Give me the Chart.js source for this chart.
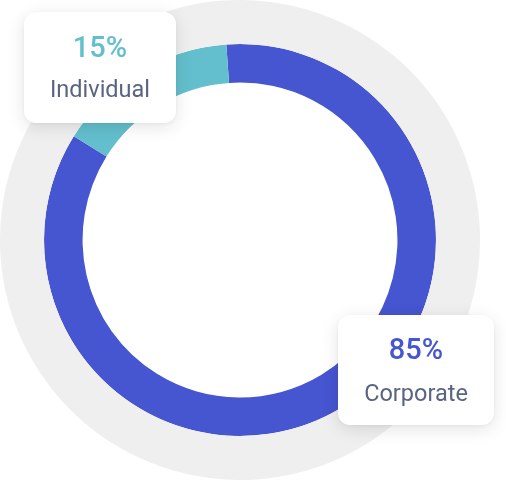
<!DOCTYPE html>
<html>
<head>
<meta charset="utf-8">
<script src="https://cdn.jsdelivr.net/npm/chart.js@4.4.1/dist/chart.umd.min.js"></script>
<style>
  html, body { margin: 0; padding: 0; background: #ffffff; }
  #stage { position: relative; width: 506px; height: 480px; overflow: hidden; font-family: Roboto, "Noto Sans", sans-serif; }
  #wrap { position: absolute; left: 0; top: 0; width: 480px; height: 480px; }
  .card { position: absolute; background: #ffffff; border-radius: 12px;
          box-shadow: 0 4px 18px rgba(0,0,0,0.11), 0 1px 4px rgba(0,0,0,0.05);
          text-align: center; }
  .pct { position: absolute; left: 0; right: 0; font-size: 29px; font-weight: 500; line-height: 1; }
  .lbl { position: absolute; left: 0; right: 0; font-size: 23.5px; font-weight: 400; color: #5a6482; line-height: 1; }
</style>
</head>
<body>
<div id="stage">
  <div id="wrap"><canvas id="c"></canvas></div>
  <div class="card" id="card0" style="left:24px; top:12px; width:152px; height:111px;">
    <div class="pct" style="top:21px;"></div>
    <div class="lbl" style="top:66px;"></div>
  </div>
  <div class="card" id="card1" style="left:338px; top:315px; width:156px; height:110px;">
    <div class="pct" style="top:20px;"></div>
    <div class="lbl" style="top:67px;"></div>
  </div>
</div>
<script>
const categories = ["Corporate", "Individual"];
const shares = [85, 15];
const colors = ["#4655d0", "#63bfcd"];
const trackValue = [100];

const chart = new Chart(document.getElementById('c'), {
  type: 'doughnut',
  data: {
    labels: categories,
    datasets: [
      { data: trackValue, backgroundColor: ['#efefef'], borderWidth: 0, weight: 44 },
      { data: shares, backgroundColor: colors, borderWidth: 0, weight: 38.5 }
    ]
  },
  options: {
    responsive: true,
    maintainAspectRatio: false,
    animation: false,
    cutout: '65.6%',
    rotation: -4,
    layout: { padding: 0 },
    events: [],
    plugins: { legend: { display: false }, tooltip: { enabled: false } }
  }
});

// Label cards: Individual (index 1) top-left, Corporate (index 0) bottom-right
const cardMap = [["card1", 0], ["card0", 1]];
cardMap.forEach(([id, i]) => {
  const card = document.getElementById(id);
  const pct = card.querySelector('.pct');
  pct.textContent = shares[i] + '%';
  pct.style.color = colors[i];
  card.querySelector('.lbl').textContent = categories[i];
});
</script>
</body>
</html>
